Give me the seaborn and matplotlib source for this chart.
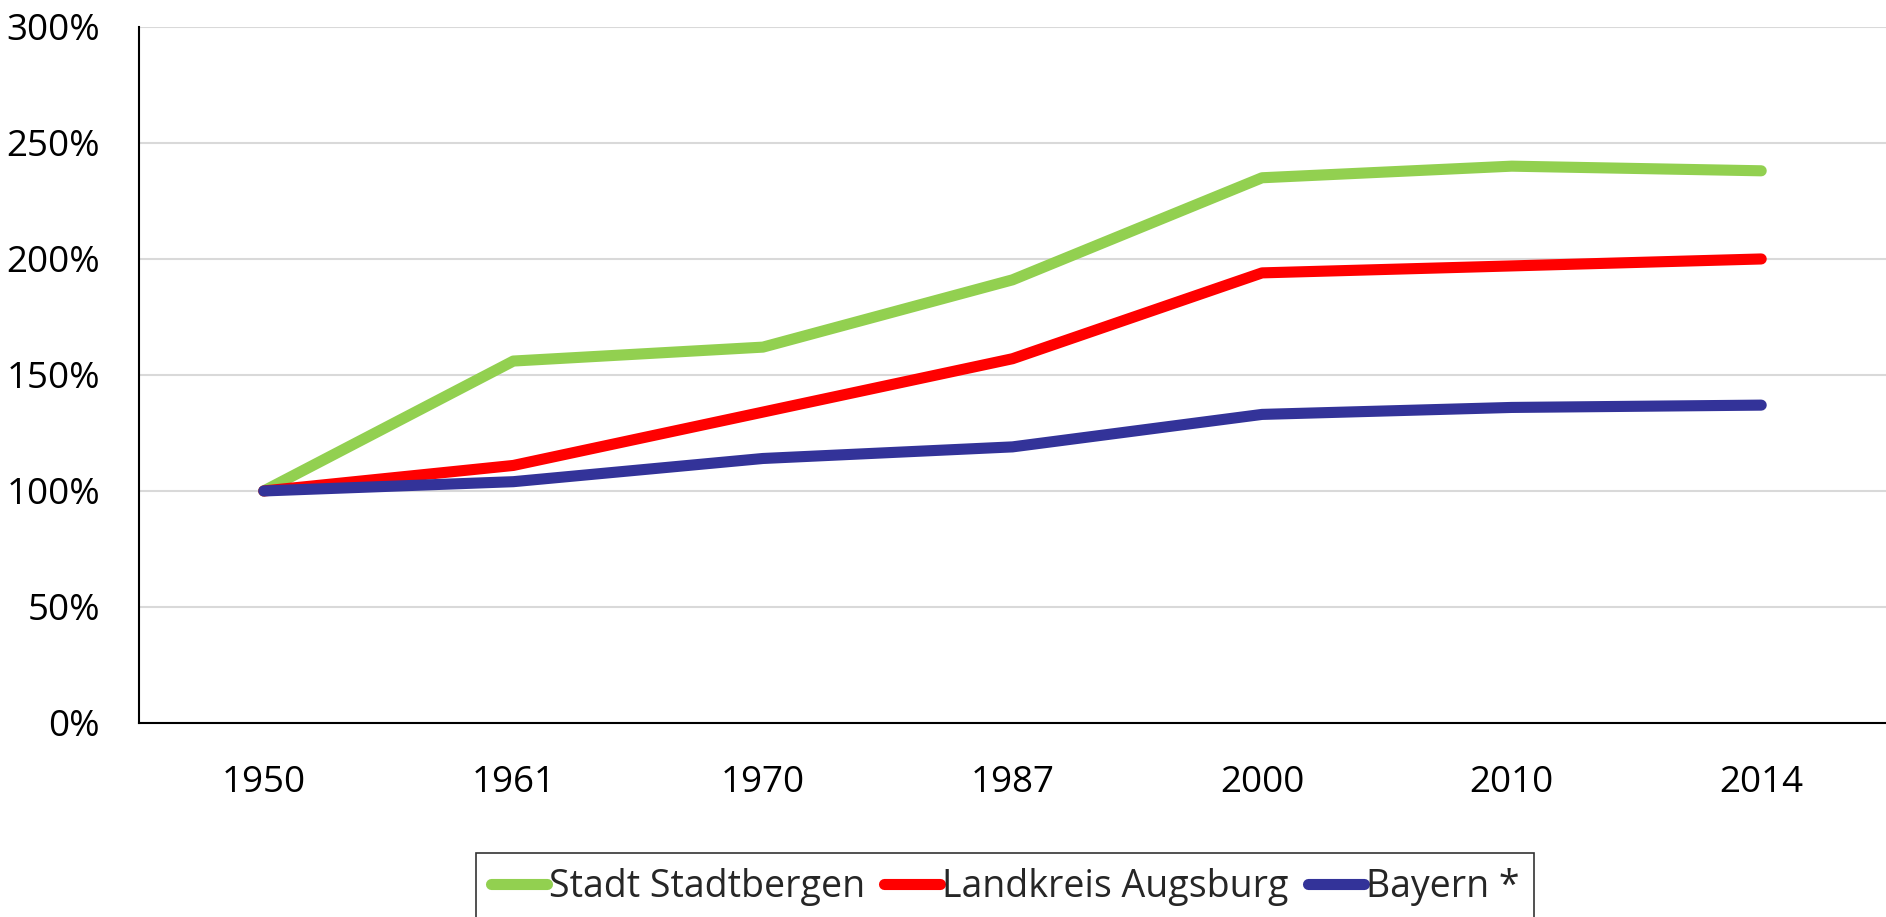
import matplotlib
matplotlib.use("Agg")
import matplotlib.pyplot as plt
import seaborn as sns
import pandas as pd
from matplotlib.ticker import PercentFormatter

years = ["1950", "1961", "1970", "1987", "2000", "2010", "2014"]
stadtbergen = [100, 156, 162, 191, 235, 240, 238]
landkreis = [100, 111, 134, 157, 194, 197, 200]
bayern = [100, 104, 114, 119, 133, 136, 137]

series_names = ["Stadt Stadtbergen", "Landkreis Augsburg", "Bayern *"]
colors = ["#92D050", "#FF0000", "#333399"]

df = pd.DataFrame({
    "year": years * 3,
    "value": stadtbergen + landkreis + bayern,
    "series": [series_names[0]] * 7 + [series_names[1]] * 7 + [series_names[2]] * 7,
})

sns.set_style("white")
plt.rcParams["font.family"] = ["Open Sans", "DejaVu Sans"]

fig = plt.figure(figsize=(18.86, 9.17), dpi=100)
ax = fig.add_axes([0.0737, 0.2116, 0.9263, 0.759])

sns.lineplot(data=df, x="year", y="value", hue="series", palette=colors,
             linewidth=8, sort=False, ax=ax, legend=False)
for line in ax.lines:
    line.set_solid_capstyle("round")

ax.set_xlim(-0.5, 6.5)
ax.set_ylim(0, 300)
ax.set_yticks(range(0, 301, 50))
ax.yaxis.set_major_formatter(PercentFormatter(decimals=0))
ax.grid(axis="y", color="#D9D9D9", linewidth=1.5)
ax.set_axisbelow(True)
ax.set_xlabel("")
ax.set_ylabel("")
for s in ["top", "right"]:
    ax.spines[s].set_visible(False)
for s in ["left", "bottom"]:
    ax.spines[s].set_color("black")
    ax.spines[s].set_linewidth(1.5)
ax.tick_params(axis="both", length=0, labelsize=26.5, labelcolor="black")
ax.tick_params(axis="y", pad=28)
ax.tick_params(axis="x", pad=30)

handles = [plt.Line2D([0], [0], color=c, linewidth=8, solid_capstyle="round") for c in colors]
leg = fig.legend(handles, series_names, loc="lower center", bbox_to_anchor=(0.533, -0.025),
                 ncol=3, fontsize=27, frameon=True, fancybox=False, handlelength=1.5,
                 handletextpad=0.05, columnspacing=0.5, borderpad=0.4)
leg.get_frame().set_edgecolor("black")
leg.get_frame().set_linewidth(1.2)

fig.savefig("out.png", dpi=100)
